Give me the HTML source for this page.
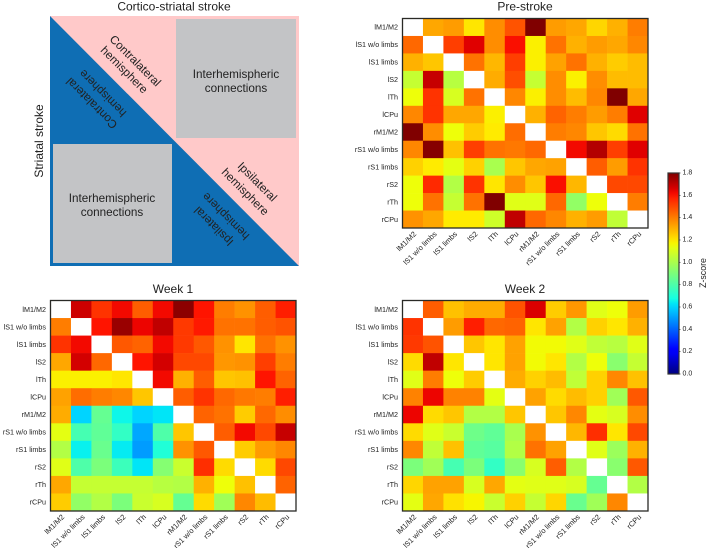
<!DOCTYPE html>
<html lang="en">
<head>
<meta charset="utf-8">
<title>Stroke connectivity heatmaps</title>
<style>
html,body{margin:0;padding:0;background:#fff;width:708px;height:548px;overflow:hidden}
svg{display:block;filter:blur(0.35px)}
text{font-family:"Liberation Sans",Arial,sans-serif;fill:#222}
</style>
</head>
<body>
<svg id="figure" width="708" height="548" viewBox="0 0 708 548" xmlns="http://www.w3.org/2000/svg">
  <g>
    <text x="174" y="10.5" font-size="12" text-anchor="middle">Cortico-striatal stroke</text>
    <text transform="translate(43 141) rotate(-90)" font-size="12" text-anchor="middle">Striatal stroke</text>
    <rect x="50" y="16" width="249" height="250" fill="#ffc9c9"/>
    <polygon points="50,16 299,266 50,266" fill="#0f6eb4"/>
    <rect x="176" y="19" width="120" height="119" fill="#c3c4c6"/>
    <rect x="53" y="144" width="119" height="119" fill="#c3c4c6"/>
    <text x="236" y="78" font-size="11.7" text-anchor="middle">Interhemispheric</text>
    <text x="236" y="92" font-size="11.7" text-anchor="middle">connections</text>
    <text x="112" y="202" font-size="11.7" text-anchor="middle">Interhemispheric</text>
    <text x="112" y="216" font-size="11.7" text-anchor="middle">connections</text>
    <text transform="translate(135 61) rotate(45)" font-size="11.7" text-anchor="middle" dominant-baseline="central">Contralateral</text>
    <text transform="translate(124 70) rotate(45)" font-size="11.7" text-anchor="middle" dominant-baseline="central">hemisphere</text>
    <text transform="translate(92 103) rotate(225)" font-size="11.7" text-anchor="middle" dominant-baseline="central">Contralateral</text>
    <text transform="translate(103 93) rotate(225)" font-size="11.7" text-anchor="middle" dominant-baseline="central">hemisphere</text>
    <text transform="translate(257 182) rotate(45)" font-size="11.7" text-anchor="middle" dominant-baseline="central">Ipsilateral</text>
    <text transform="translate(245 192) rotate(45)" font-size="11.7" text-anchor="middle" dominant-baseline="central">hemisphere</text>
    <text transform="translate(214 226) rotate(225)" font-size="11.7" text-anchor="middle" dominant-baseline="central">Ipsilateral</text>
    <text transform="translate(226 216) rotate(225)" font-size="11.7" text-anchor="middle" dominant-baseline="central">hemisphere</text>
  </g>
</svg>
<script>
const categories = ["lM1/M2","lS1 w/o limbs","lS1 limbs","lS2","lTh","lCPu","rM1/M2","rS1 w/o limbs","rS1 limbs","rS2","rTh","rCPu"];
const preStrokeValues = [
  [null,1.32,1.34,1.2,1.37,1.48,1.8,1.34,1.32,1.23,1.3,1.4],
  [1.44,null,1.52,1.65,1.37,1.61,1.18,1.42,1.3,1.34,1.32,1.38],
  [1.3,1.26,null,1.42,1.29,1.52,1.18,1.33,1.42,1.3,1.25,1.28],
  [1.06,1.69,1.03,null,1.31,1.49,1.06,1.37,1.18,1.37,1.28,1.28],
  [1.15,1.54,1.1,1.42,null,1.38,1.18,1.37,1.28,1.38,1.8,1.32],
  [1.38,1.54,1.32,1.32,1.18,null,1.3,1.45,1.4,1.34,1.4,1.65],
  [1.8,1.37,1.15,1.25,1.19,1.43,null,1.4,1.38,1.26,1.22,1.42],
  [1.38,1.79,1.27,1.52,1.42,1.41,1.44,null,1.62,1.72,1.52,1.65],
  [1.24,1.19,1.13,1.24,1.0,1.26,1.32,1.33,null,1.46,1.34,1.54],
  [1.15,1.56,1.02,1.54,1.2,1.37,1.26,1.61,1.29,null,1.5,1.5],
  [1.15,1.42,1.06,1.42,1.8,1.12,1.12,1.44,0.95,1.15,null,1.4],
  [1.36,1.32,1.19,1.19,1.08,1.7,1.44,1.38,1.3,1.34,1.05,null]
];
const week1Values = [
  [null,1.68,1.54,1.62,1.46,1.62,1.78,1.6,1.4,1.36,1.46,1.58],
  [1.4,null,1.6,1.76,1.63,1.7,1.53,1.59,1.42,1.42,1.46,1.48],
  [1.54,1.62,null,1.47,1.45,1.62,1.53,1.47,1.36,1.2,1.42,1.36],
  [1.32,1.67,1.44,null,1.6,1.67,1.5,1.5,1.35,1.36,1.52,1.4],
  [1.18,1.18,1.18,1.2,null,1.62,1.3,1.46,1.26,1.27,1.6,1.45],
  [1.33,1.43,1.4,1.38,1.26,null,1.46,1.54,1.44,1.41,1.4,1.58],
  [1.31,0.6,0.85,0.66,0.6,0.63,null,1.45,1.42,1.25,1.44,1.37],
  [1.13,0.78,0.84,0.74,0.52,0.8,1.26,null,1.46,1.62,1.5,1.69],
  [1.02,0.65,0.86,0.64,0.5,0.7,1.36,1.47,null,1.25,1.34,1.38],
  [1.12,0.8,0.9,0.76,0.63,0.92,1.07,1.55,1.22,null,1.22,1.5],
  [1.32,1.06,1.06,1.06,1.06,1.03,1.02,1.3,1.15,1.27,null,1.45],
  [1.25,0.95,1.02,0.9,1.07,1.1,0.85,1.22,0.98,1.38,1.28,null]
];
const week2Values = [
  [null,1.46,1.27,1.31,1.31,1.48,1.66,1.25,1.35,1.12,1.15,1.34],
  [1.54,null,1.34,1.58,1.44,1.45,1.2,1.33,1.02,1.24,1.2,1.3],
  [1.53,1.48,null,1.26,1.2,1.33,1.16,1.16,1.12,1.05,1.03,1.12],
  [1.22,1.7,1.2,null,1.2,1.33,1.16,1.2,1.02,1.15,0.93,1.06],
  [1.12,1.4,1.15,1.25,null,1.31,1.24,1.28,1.05,1.24,1.38,1.27],
  [1.39,1.63,1.39,1.39,1.13,null,1.33,1.22,1.28,1.24,0.98,1.47],
  [1.63,1.22,1.26,1.02,1.02,1.26,null,1.26,1.38,1.13,1.1,1.37],
  [1.22,1.12,1.07,0.87,0.84,1.0,1.36,null,1.29,1.55,1.2,1.5],
  [1.38,1.05,1.27,0.84,0.82,1.02,1.42,1.33,null,1.12,0.97,1.3],
  [0.9,0.98,0.78,0.9,0.74,0.93,1.1,1.46,1.02,null,0.93,1.47],
  [1.23,1.33,1.33,1.1,1.32,1.13,1.12,1.12,1.1,0.85,null,1.02],
  [1.13,1.32,1.21,1.17,1.07,1.24,1.06,1.23,0.86,0.98,1.38,null]
];
const colorbarTicks = [0,0.2,0.4,0.6,0.8,1.0,1.2,1.4,1.6,1.8];
const scaleMin = 0;
const scaleMax = 1.8;

const NS = "http://www.w3.org/2000/svg";
const figure = document.getElementById("figure");

function make(tag, attrs, parent, content) {
  const el = document.createElementNS(NS, tag);
  for (const k in attrs) el.setAttribute(k, attrs[k]);
  if (content !== undefined) el.textContent = content;
  parent.appendChild(el);
  return el;
}
function clamp01(v) { return Math.max(0, Math.min(1, v)); }
function jetColor(value) {
  const t = clamp01((value - scaleMin) / (scaleMax - scaleMin));
  const piece = (xs, ys) => {
    for (let i = 1; i < xs.length; i++) {
      if (t <= xs[i]) return ys[i-1] + (ys[i]-ys[i-1]) * (t-xs[i-1]) / (xs[i]-xs[i-1]);
    }
    return ys[ys.length-1];
  };
  const r = piece([0,0.35,0.66,0.89,1],[0,0,1,1,0.5]);
  const g = piece([0,0.125,0.375,0.64,0.91,1],[0,0,1,1,0,0]);
  const b = piece([0,0.11,0.34,0.65,1],[0.5,1,1,0,0]);
  return "rgb(" + Math.round(r*255) + "," + Math.round(g*255) + "," + Math.round(b*255) + ")";
}
function slug(s) { return s.toLowerCase().replace(/[^a-z0-9]+/g, "-").replace(/^-|-$/g, ""); }

function drawHeatmap(panelName, title, values, box) {
  const g = make("g", {}, figure);
  
  
  const bandW = (box.right - box.left) / categories.length;
  const bandH = (box.bottom - box.top) / categories.length;
  const xAxis = i => box.left + i * bandW;
  const yAxis = i => box.top + i * bandH;

  const titleEl = make("text", {x: box.titleX, y: box.titleY, "font-size": 12, "text-anchor": "middle"}, g, title);
  
  

  values.forEach((row, r) => {
    row.forEach((v, c) => {
      const cell = make("rect", {
        x: xAxis(c), y: yAxis(r), width: bandW + 0.3, height: bandH + 0.3,
        fill: v === null ? "#ffffff" : jetColor(v)
      }, g);
      
      
    });
  });

  const frame = make("rect", {
    x: box.left, y: box.top, width: box.right - box.left, height: box.bottom - box.top,
    fill: "none", stroke: "#2a2a26", "stroke-width": 1.3
  }, g);
  
  

  categories.forEach((name, i) => {
    const yLabel = make("text", {
      x: box.left - 4.5, y: yAxis(i) + bandH / 2, "font-size": 7.2,
      "text-anchor": "end", "dominant-baseline": "central"
    }, g, name);
    
    

    const tx = xAxis(i) + bandW / 2 + 4;
    const ty = box.bottom + 6.5;
    const xLabel = make("text", {
      transform: "translate(" + tx + " " + ty + ") rotate(-45)", "font-size": 7.4, "text-anchor": "end"
    }, g, name);
    
    
  });
}

function drawColorbar(box) {
  const g = make("g", {}, figure);
  
  
  const defs = make("defs", {}, g);
  const grad = make("linearGradient", {id: "jetGradient", x1: 0, y1: 1, x2: 0, y2: 0}, defs);
  for (let i = 0; i <= 40; i++) {
    const f = i / 40;
    make("stop", {offset: f, "stop-color": jetColor(scaleMin + f * (scaleMax - scaleMin))}, grad);
  }
  const yAxis = v => box.bottom - (v - scaleMin) / (scaleMax - scaleMin) * (box.bottom - box.top);
  const bar = make("rect", {
    x: box.left, y: box.top, width: box.right - box.left, height: box.bottom - box.top,
    fill: "url(#jetGradient)", stroke: "#333", "stroke-width": 1.2
  }, g);
  
  
  colorbarTicks.forEach(v => {
    const tick = make("line", {x1: box.right, x2: box.right + 1.5, y1: yAxis(v), y2: yAxis(v), stroke: "#333", "stroke-width": 0.7}, g);
    
    
    const label = make("text", {x: box.right + 3.5, y: yAxis(v), "font-size": 7, "dominant-baseline": "central"}, g, v.toFixed(1));
    
    
  });
  const axisTitle = make("text", {
    transform: "translate(706 273) rotate(-90)", "font-size": 8.8, "text-anchor": "middle"
  }, g, "Z-score");
  
  
}

drawHeatmap("pre-stroke", "Pre-stroke", preStrokeValues, {left: 402.5, right: 648, top: 18.5, bottom: 228, titleX: 525, titleY: 10.5});
drawHeatmap("week-1", "Week 1", week1Values, {left: 50.5, right: 296, top: 300.5, bottom: 511, titleX: 173, titleY: 293});
drawHeatmap("week-2", "Week 2", week2Values, {left: 402.5, right: 648, top: 300.5, bottom: 511, titleX: 525, titleY: 293});
drawColorbar({left: 668, right: 679, top: 173, bottom: 374});
</script>
</body>
</html>
